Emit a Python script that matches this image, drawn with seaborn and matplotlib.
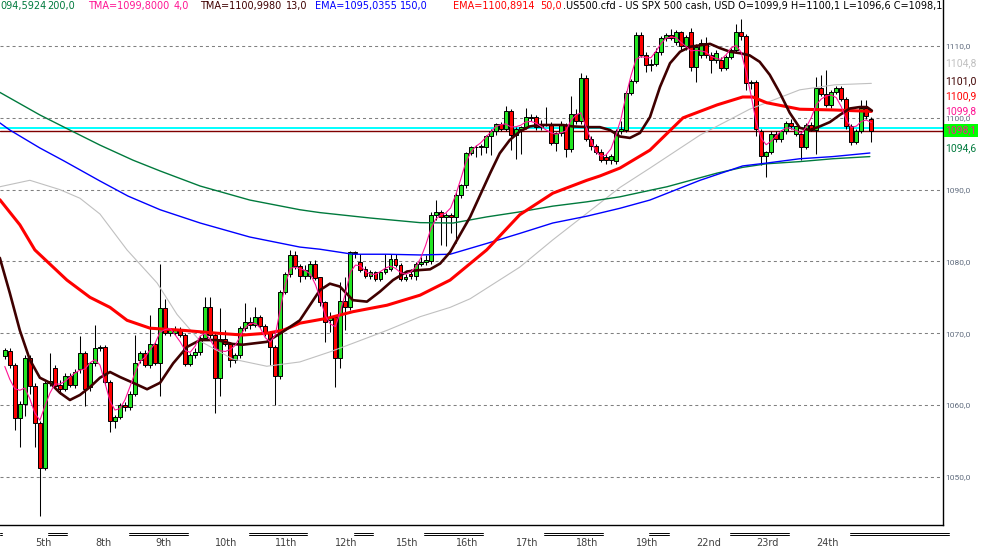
import matplotlib
matplotlib.use("Agg")
import matplotlib.pyplot as plt
import numpy as np
import pandas as pd
import seaborn as sns
from matplotlib.lines import Line2D
from matplotlib.ticker import FuncFormatter

# .US500.cfd, H2 bars (12 per day)
opens = [
    1066.8, 1067.5, 1065.6, 1058.2, 1060.2, 1066.6, 1062.7, 1057.5, 1051.2, 1063.1, 1065.1, 1062.8,
    1062.2, 1064.1, 1062.8, 1065.0, 1067.2, 1062.5, 1065.8, 1067.9, 1068.1, 1063.2, 1057.8, 1058.4,
    1060.0, 1059.7, 1061.6, 1066.3, 1067.2, 1065.6, 1068.5, 1065.8, 1073.5, 1070.1, 1070.0, 1070.6,
    1069.8, 1065.7, 1066.9, 1067.4, 1069.3, 1073.6, 1069.7, 1063.7, 1069.2, 1068.5, 1066.3, 1066.9,
    1070.7, 1071.5, 1071.1, 1072.2, 1071.0, 1070.0, 1068.1, 1064.0, 1075.7, 1078.2, 1080.9, 1079.3,
    1078.0, 1078.0, 1079.6, 1077.8, 1074.3, 1071.8, 1072.2, 1066.6, 1074.5, 1073.6, 1081.3, 1079.9,
    1078.9, 1078.0, 1078.5, 1077.6, 1078.5, 1078.9, 1080.4, 1079.5, 1077.6, 1078.3, 1078.0, 1079.6,
    1079.9, 1080.0, 1086.5, 1086.9, 1086.2, 1086.5, 1086.2, 1089.3, 1090.6, 1095.1, 1095.9, 1096.1,
    1096.0, 1097.4, 1098.2, 1099.1, 1098.5, 1100.9, 1097.6, 1098.4, 1098.7, 1100.1, 1100.1, 1098.7,
    1099.2, 1099.0, 1096.5, 1097.9, 1099.0, 1095.6, 1100.6, 1099.5, 1105.5, 1097.1, 1096.1, 1095.3,
    1094.6, 1094.1, 1094.0, 1098.1, 1098.3, 1103.5, 1105.1, 1111.5, 1108.8, 1107.4, 1107.5, 1109.1,
    1111.1, 1111.5, 1110.5, 1111.9, 1110.0, 1111.9, 1107.1, 1108.8, 1110.4, 1108.8, 1108.1, 1108.1,
    1106.9, 1108.5, 1109.4, 1112.0, 1111.4, 1104.8, 1105.0, 1098.1, 1094.7, 1095.3, 1097.8, 1097.0,
    1098.1, 1099.3, 1097.8, 1097.8, 1095.9, 1099.0, 1098.3, 1104.1, 1103.3, 1101.8, 1103.6, 1104.1,
    1102.6, 1098.8, 1096.7, 1098.2, 1101.3, 1099.9,
]
highs = [
    1068.0, 1067.9, 1065.9, 1060.5, 1066.9, 1067.0, 1063.0, 1057.8, 1063.3, 1067.2, 1065.6, 1063.5,
    1064.5, 1064.4, 1065.0, 1069.6, 1067.5, 1066.0, 1071.1, 1068.4, 1068.3, 1063.5, 1058.6, 1060.3,
    1060.4, 1061.9, 1069.8, 1067.5, 1067.6, 1072.5, 1068.8, 1079.6, 1074.8, 1070.7, 1071.0, 1070.9,
    1070.0, 1067.2, 1067.9, 1069.6, 1075.1, 1075.1, 1070.0, 1073.5, 1070.5, 1068.8, 1067.3, 1071.0,
    1074.2, 1072.3, 1073.7, 1072.5, 1071.3, 1070.3, 1068.4, 1076.0, 1078.5, 1081.6, 1081.4, 1079.6,
    1079.5, 1080.0, 1080.2, 1077.9, 1074.5, 1073.0, 1072.5, 1077.2, 1077.9, 1081.5, 1081.5, 1081.0,
    1079.3, 1078.8, 1078.7, 1078.7, 1081.0, 1081.0, 1081.1, 1079.8, 1078.3, 1078.9, 1079.9, 1080.6,
    1080.9, 1086.9, 1088.6, 1087.2, 1086.8, 1086.7, 1089.6, 1090.8, 1095.3, 1096.1, 1096.2, 1096.4,
    1097.6, 1098.4, 1099.3, 1099.4, 1101.7, 1101.2, 1098.7, 1098.9, 1101.3, 1100.5, 1100.4, 1099.7,
    1101.5, 1099.4, 1098.0, 1099.5, 1099.3, 1103.0, 1101.2, 1106.2, 1106.0, 1097.5, 1096.4, 1095.6,
    1095.0, 1094.9, 1098.4, 1099.6, 1103.8, 1105.4, 1111.9, 1112.0, 1109.1, 1108.2, 1109.7, 1111.4,
    1111.8, 1112.4, 1112.2, 1112.1, 1111.5, 1112.5, 1110.3, 1111.0, 1111.3, 1109.2, 1109.4, 1108.5,
    1108.8, 1109.7, 1113.0, 1113.8, 1111.7, 1105.3, 1105.3, 1098.4, 1095.4, 1098.1, 1098.2, 1098.3,
    1099.6, 1099.8, 1098.9, 1098.1, 1099.3, 1099.4, 1105.7, 1106.0, 1106.7, 1103.9, 1104.4, 1104.4,
    1102.9, 1099.1, 1098.5, 1102.5, 1102.5, 1100.1,
]
lows = [
    1066.4, 1065.2, 1056.5, 1054.2, 1058.5, 1061.5, 1054.2, 1044.6, 1050.9, 1062.6, 1062.2, 1061.5,
    1061.9, 1062.5, 1062.4, 1064.5, 1059.8, 1062.0, 1065.4, 1067.5, 1062.8, 1056.2, 1056.8, 1058.0,
    1059.2, 1059.3, 1061.3, 1065.8, 1065.3, 1065.2, 1065.6, 1061.2, 1069.8, 1069.6, 1069.7, 1069.5,
    1065.4, 1065.4, 1066.5, 1067.0, 1069.0, 1069.4, 1058.9, 1061.2, 1068.2, 1065.3, 1065.8, 1066.6,
    1070.3, 1070.6, 1070.8, 1070.7, 1069.6, 1065.6, 1060.0, 1063.6, 1075.4, 1077.9, 1078.9, 1077.2,
    1077.5, 1077.6, 1077.4, 1073.8, 1068.8, 1070.2, 1062.5, 1065.1, 1070.4, 1073.3, 1080.5, 1078.5,
    1077.7, 1077.6, 1077.3, 1077.3, 1078.2, 1078.6, 1079.2, 1077.3, 1077.3, 1077.6, 1077.4, 1079.3,
    1079.5, 1079.7, 1085.8, 1082.3, 1082.1, 1084.0, 1082.5, 1088.9, 1090.2, 1094.8, 1094.6, 1094.8,
    1095.1, 1094.8, 1097.6, 1098.2, 1098.2, 1095.5, 1094.2, 1095.0, 1098.4, 1099.5, 1098.3, 1098.3,
    1098.8, 1096.2, 1095.4, 1097.5, 1094.6, 1095.3, 1099.2, 1099.2, 1096.8, 1095.5, 1095.0, 1093.9,
    1093.6, 1093.5, 1093.6, 1097.7, 1098.0, 1103.2, 1104.9, 1108.5, 1106.4, 1106.5, 1107.2, 1108.8,
    1110.7, 1110.8, 1110.2, 1109.3, 1109.5, 1106.5, 1105.0, 1108.4, 1108.3, 1106.2, 1107.6, 1106.5,
    1106.6, 1108.2, 1109.0, 1110.9, 1103.9, 1104.0, 1097.5, 1093.4, 1091.8, 1094.9, 1096.7, 1096.6,
    1097.8, 1098.5, 1097.5, 1094.1, 1095.6, 1098.1, 1095.0, 1103.0, 1101.5, 1101.4, 1103.3, 1102.3,
    1098.5, 1096.2, 1096.4, 1097.9, 1099.9, 1096.6,
]
closes = [
    1067.6, 1065.6, 1058.2, 1060.2, 1066.6, 1062.7, 1057.5, 1051.2, 1063.1, 1063.3, 1062.7, 1062.2,
    1064.1, 1062.8, 1064.6, 1067.2, 1062.2, 1065.8, 1067.9, 1068.1, 1063.2, 1057.8, 1058.4, 1060.0,
    1059.7, 1061.6, 1065.9, 1067.2, 1065.6, 1068.5, 1065.9, 1073.5, 1070.1, 1070.4, 1070.6, 1069.8,
    1065.7, 1066.9, 1067.4, 1069.3, 1073.6, 1069.7, 1063.7, 1069.2, 1068.5, 1066.3, 1066.9, 1070.7,
    1071.5, 1071.1, 1072.2, 1071.0, 1070.0, 1068.1, 1064.0, 1075.7, 1078.2, 1080.9, 1079.3, 1078.0,
    1078.8, 1079.6, 1077.7, 1074.3, 1071.5, 1072.2, 1066.6, 1074.5, 1073.6, 1081.3, 1081.2, 1078.8,
    1078.0, 1078.5, 1077.6, 1078.5, 1078.9, 1080.4, 1079.5, 1077.6, 1077.9, 1078.0, 1079.6, 1079.9,
    1080.2, 1086.5, 1086.9, 1086.2, 1086.5, 1086.2, 1089.3, 1090.6, 1095.1, 1095.9, 1096.0, 1095.9,
    1097.4, 1098.2, 1099.1, 1098.5, 1100.9, 1097.6, 1098.4, 1098.7, 1100.1, 1100.0, 1098.7, 1099.2,
    1099.0, 1096.5, 1097.9, 1099.0, 1095.6, 1100.6, 1099.5, 1105.5, 1097.1, 1096.1, 1095.3, 1094.1,
    1094.1, 1094.7, 1098.1, 1098.5, 1103.5, 1105.1, 1111.5, 1108.8, 1107.4, 1107.5, 1109.1, 1111.1,
    1111.5, 1111.1, 1111.9, 1110.0, 1111.2, 1107.1, 1109.9, 1110.4, 1108.8, 1108.1, 1109.0, 1106.9,
    1108.5, 1109.4, 1112.0, 1111.4, 1104.8, 1105.0, 1098.4, 1094.7, 1095.3, 1097.8, 1097.0, 1098.1,
    1099.3, 1098.8, 1098.8, 1095.9, 1099.0, 1098.3, 1104.1, 1103.3, 1101.8, 1103.6, 1104.1, 1102.6,
    1098.8, 1096.7, 1098.2, 1101.3, 1100.2, 1098.1,
]

day_labels = ["5th", "8th", "9th", "10th", "11th", "12th", "15th", "16th",
              "17th", "18th", "19th", "22nd", "23rd", "24th"]
first_day_bar = 6
bars_per_day = 12

# indicator lines (bar index, price)
gray_bar = [-1, 5, 11, 15, 19, 24.4, 30.4, 34.4, 39, 45.5, 52.3, 58.9, 64.9, 69.5, 76.3,
            82.9, 88.9, 92.9, 102.8, 109.4, 116.2, 122.8, 128.8, 138.8, 148.7, 158.7, 165.7, 173]
gray_val = [1090.4, 1091.3, 1090.0, 1088.8, 1086.6, 1081.6, 1077.0, 1072.6, 1068.9, 1066.4, 1065.4,
            1066.0, 1067.4, 1068.6, 1070.4, 1072.3, 1073.6, 1074.8, 1079.2, 1083.0, 1086.7, 1090.3,
            1093.0, 1097.6, 1101.2, 1103.9, 1104.6, 1104.8]

ema200_bar = [-1, 7, 12.4, 19, 25.6, 31, 39, 48.9, 58.9, 62.9, 72.9, 82.9, 89.5, 96.2, 102.8,
              109.4, 116.2, 122.8, 128.8, 132.2, 142.2, 147.3, 152.1, 158.7, 165.3, 172.7]
ema200_val = [1103.55, 1100.4, 1098.5, 1096.2, 1094.1, 1092.6, 1090.5, 1088.55, 1087.2, 1086.8,
              1086.05, 1085.4, 1085.35, 1086.2, 1086.9, 1087.7, 1088.3, 1089.0, 1089.9, 1090.4,
              1092.3, 1093.1, 1093.6, 1093.9, 1094.3, 1094.6]

ema150_bar = [-1, 1, 7, 11.8, 19, 24.6, 31, 39, 48.9, 58.9, 62.9, 69.5, 76.3, 82.9, 88.9, 96.2,
              102.8, 109.4, 116.2, 122.8, 128.8, 138.8, 147.3, 152.1, 158.7, 165.3, 172.7]
ema150_val = [1099.3, 1098.3, 1095.8, 1094.0, 1091.2, 1089.1, 1087.2, 1085.35, 1083.4, 1082.0,
              1081.7, 1081.0, 1081.0, 1080.9, 1081.0, 1082.5, 1083.9, 1085.35, 1086.3, 1087.4,
              1088.55, 1091.3, 1093.3, 1093.7, 1094.3, 1094.6, 1095.1]

ema50_bar = [-1, 3, 6, 12.4, 17, 21, 24.4, 29, 35.6, 42.4, 47.5, 52.3, 55.5, 58.9, 64.5, 69.5,
             76.3, 82.9, 88.9, 96.2, 102.8, 109.4, 116.2, 118.8, 122.8, 128.8, 135.4, 142.2,
             147.3, 149.3, 152.1, 158.7, 165.3, 173]
ema50_val = [1088.6, 1085.1, 1081.6, 1077.4, 1075.0, 1073.6, 1071.8, 1070.7, 1070.4, 1070.0,
             1069.75, 1070.0, 1070.4, 1071.4, 1072.1, 1073.0, 1073.9, 1075.3, 1077.4, 1081.6,
             1086.5, 1089.5, 1091.3, 1091.9, 1093.0, 1095.5, 1100.0, 1101.8, 1102.9, 1102.9,
             1102.1, 1101.2, 1101.1, 1100.9]

tma13_bar = [-1, 1, 3, 5, 7, 9, 11, 13, 15, 17, 19, 21, 23, 25.6, 28.4, 31, 33.6, 36.4, 39, 42.4,
             45.5, 47.5, 52.3, 55.5, 58.9, 62.9, 64.9, 66.9, 69.5, 72.3, 74.9, 77.5, 80.3, 82.9,
             84.9, 86.9, 88.9, 92.9, 96.9, 98.8, 100.8, 102.8, 104.8, 106.8, 108.8, 111.4, 113.4,
             116.8, 118.8, 120.8, 122.8, 124.8, 126.8, 128.8, 130.8, 132.8, 134.8, 136.8, 138.8,
             140.8, 142.8, 144.8, 146.8, 148.7, 150.7, 152.7, 154.7, 156.7, 158.7, 160.7, 162.7,
             164.7, 166.7, 168.7, 170.7, 172.1, 173.1]
tma13_val = [1080.5, 1075.6, 1070.4, 1066.3, 1063.8, 1063.1, 1061.7, 1060.7, 1061.4, 1062.5,
             1063.8, 1064.6, 1063.9, 1063.1, 1062.2, 1063.1, 1065.8, 1068.1, 1069.05, 1069.05,
             1068.5, 1068.4, 1068.8, 1070.2, 1071.8, 1076.0, 1076.9, 1076.5, 1074.6, 1074.4,
             1075.8, 1077.4, 1078.6, 1078.8, 1078.9, 1079.7, 1081.3, 1086.2, 1092.3, 1095.05,
             1096.9, 1098.1, 1098.8, 1099.0, 1099.0, 1099.0, 1098.8, 1098.7, 1098.7, 1098.3,
             1097.4, 1097.2, 1097.9, 1100.1, 1104.3, 1107.6, 1109.2, 1109.9, 1110.1, 1110.3,
             1109.7, 1109.2, 1109.0, 1108.7, 1107.8, 1106.0, 1103.5, 1100.7, 1098.6, 1098.3,
             1098.8, 1099.4, 1100.4, 1101.3, 1101.5, 1101.5, 1101.0]

# last indicator values as printed on the chart
ema200_last = 1094.5924
tma4_last = 1099.8
tma13_last = 1100.998
ema150_last = 1095.0355
ema50_last = 1100.8914
gray_last = 1104.8
ask = 1098.54

W, H = 989, 551
PLOT_R, PLOT_B = 943, 525

sns.set_style("white")
plt.rcParams["font.family"] = ["DejaVu Sans"]

fig = plt.figure(figsize=(W / 100, H / 100), dpi=100)
ax = fig.add_axes([0, (H - PLOT_B) / H, PLOT_R / W, PLOT_B / H])

df = pd.DataFrame({"o": opens, "h": highs, "l": lows, "c": closes})
df["bar"] = np.arange(len(df))
up = df["c"] >= df["o"]

# candles
ax.vlines(df["bar"], df["l"], df["h"], color="black", linewidth=0.75, zorder=3)
body_h = np.maximum((df["c"] - df["o"]).abs(), 0.06)
ax.bar(df["bar"], body_h, bottom=np.minimum(df["o"], df["c"]), width=0.78,
       color=np.where(up, "#22e622", "#ff0000"), edgecolor="black", linewidth=0.7, zorder=4)

# TMA(4) of the closes
w = np.array([1, 2, 3, 2, 1], dtype=float)
num = np.convolve(df["c"], w, mode="same")
den = np.convolve(np.ones(len(df)), w, mode="same")
df["tma4"] = num / den

lines = [
    (gray_bar, gray_val, "#c0c0c0", 0.8),
    (ema200_bar, ema200_val, "#007a3d", 1.0),
    (ema150_bar, ema150_val, "#0000ff", 1.0),
    (ema50_bar, ema50_val, "#ff0000", 2.2),
    (tma13_bar, tma13_val, "#3f0000", 1.9),
]
for xb, yv, col, lw in lines:
    sns.lineplot(x=xb, y=yv, ax=ax, color=col, linewidth=lw, zorder=5)
sns.lineplot(x=df["bar"], y=df["tma4"], ax=ax, color="#ff1493", linewidth=0.8, zorder=6)

# ask / bid lines
ax.axhline(ask, color="#00ffff", linewidth=1.4, zorder=2)
ax.axhline(closes[-1], color="#800000", linewidth=1.0, zorder=2)

# axes
ax.set_xlim(-0.96, 187.3)
ax.set_ylim(1043.29, 1116.41)
ax.set_yticks(np.arange(1050, 1111, 10))
ax.yaxis.grid(True, linestyle=(0, (2.9, 2.9)), color="#808080", linewidth=0.75)
ax.xaxis.grid(False)
ax.set_axisbelow(True)
ax.yaxis.tick_right()


def fmt(v, nd=1):
    return f"{v:.{nd}f}".replace(".", ",")


ax.yaxis.set_major_formatter(FuncFormatter(lambda v, _: fmt(v)))
ax.tick_params(axis="y", length=0, pad=2, labelsize=6, labelcolor="#5f6b7d")
for t in ax.get_yticklabels():
    t.set_family("Roboto")
ticks = [first_day_bar + bars_per_day * k for k in range(len(day_labels))]
ax.set_xticks(ticks)
ax.set_xticklabels(day_labels, ha="left")
ax.tick_params(axis="x", length=0, pad=9, labelsize=7, labelcolor="#404040")
ax.set_xlabel("")
ax.set_ylabel("")
for s in ["top", "left"]:
    ax.spines[s].set_visible(False)
for s in ["right", "bottom"]:
    ax.spines[s].set_color("black")
    ax.spines[s].set_linewidth(1.0)

# header line
hy = 1 - 6 / PLOT_B
last = df.iloc[-1]
header = [
    (fmt(ema200_last, 4)[1:], 0, "#007a3d"), ("200,0", 47, "#007a3d"),
    ("TMA=" + fmt(tma4_last, 4), 88, "#ff1493"), ("4,0", 174, "#ff1493"),
    ("TMA=" + fmt(tma13_last, 4), 200, "#3f0000"), ("13,0", 286, "#3f0000"),
    ("EMA=" + fmt(ema150_last, 4), 315, "#0000ff"), ("150,0", 400, "#0000ff"),
    ("EMA=" + fmt(ema50_last, 4), 453, "#ff0000"), ("50,0", 540, "#ff0000"),
    (f".US500.cfd - US SPX 500 cash, USD O={fmt(last.o)} H={fmt(last.h)} "
     f"L={fmt(last.l)} C={fmt(last.c)}", 563, "black"),
]
for txt, px, col in header:
    ax.text(px / PLOT_R, hy, txt, transform=ax.transAxes, fontsize=7, color=col,
            va="center", ha="left", clip_on=True, zorder=10)


# price labels on the scale
def fy(py):
    return 1 - py / H


lx = 945 / W
labels = [
    (gray_last, 63.3, "#c0c0c0"),
    (tma13_last, 81, "#3f0000"),
    (ema50_last, 96.7, "#ff0000"),
    (tma4_last, 111, "#ff1493"),
    (ema150_last, 131.7, "#0000ff"),
    (ema200_last, 148.3, "#007a3d"),
]
for val, py, col in labels:
    fig.text(lx, fy(py), fmt(val), fontsize=7.5, color=col, family="Roboto",
             va="center", ha="left")
fig.text(lx, fy(130.5), fmt(closes[-1]), fontsize=7.5, color="#ff1493", family="Roboto",
         va="center", ha="left",
         bbox=dict(boxstyle="square,pad=0.12", fc="#00ff00", ec="none"))

# period separators under the time scale
segs = [(0, 2), (48, 67), (129, 188), (249, 307), (354, 373), (424, 483),
        (544, 603), (649, 669), (730, 789), (850, 949)]
for x0, x1 in segs:
    for py in (532.7, 535.3):
        fig.add_artist(Line2D([x0 / W, x1 / W], [fy(py), fy(py)], transform=fig.transFigure,
                              color="black", linewidth=0.7))

fig.savefig("out.png", dpi=100, facecolor="white")
